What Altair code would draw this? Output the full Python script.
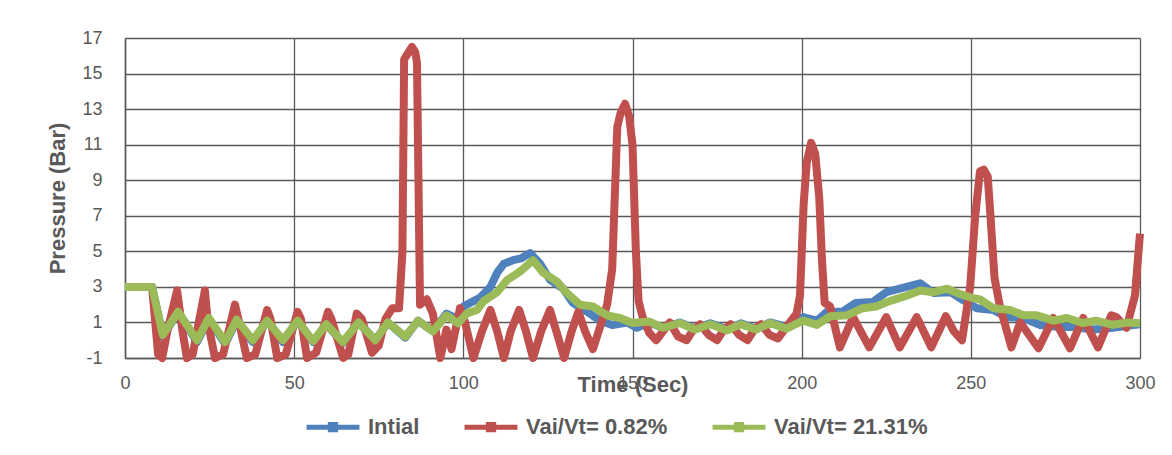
import altair as alt
import pandas as pd

series_names = ["Intial", "Vai/Vt= 0.82%", "Vai/Vt= 21.31%"]
series_colors = ["#4F81BD", "#C0504D", "#9BBB59"]

x_ticks = [0, 50, 100, 150, 200, 250, 300]
y_ticks = [-1, 1, 3, 5, 7, 9, 11, 13, 15, 17]

# Intial (blue)
blue_t = [0, 8, 11.2, 15.7, 21.3, 24.8, 29.6, 33, 37.8, 42, 46.7, 51, 55.6, 59.5, 64.4, 69, 74, 77.7,
          82.8, 86.6, 91, 95, 98.4, 100, 103, 105, 108, 110, 112, 114.7, 117, 119.7, 122.7, 125.6,
          129.5, 132.4, 136.6, 140.4, 144, 148.4, 151.3, 155, 159, 164, 168.5, 173, 178, 182, 186.5,
          190.7, 195.5, 200.4, 204.5, 207.5, 212, 216, 221, 225, 231, 235, 239, 244, 247.7, 251.8,
          256.6, 260.7, 265.5, 270.5, 275.5, 280, 286, 292, 298, 300]
blue_v = [3.0, 3.0, 0.2, 1.6, -0.1, 1.2, -0.2, 1.1, -0.1, 1.1, -0.1, 1.1, -0.1, 0.9, -0.15, 1.0, 0.0, 1.0,
          0.15, 1.1, 0.5, 1.5, 1.2, 1.9, 2.2, 2.4, 3.0, 3.8, 4.3, 4.5, 4.6, 4.9, 4.3, 3.4,
          2.9, 2.1, 1.6, 1.1, 0.86, 1.0, 0.7, 1.0, 0.7, 1.0, 0.65, 0.95, 0.6, 0.95, 0.65,
          1.0, 0.75, 1.3, 1.1, 1.6, 1.6, 2.1, 2.15, 2.7, 3.0, 3.2, 2.65, 2.7, 2.26, 1.8,
          1.7, 1.3, 1.25, 0.86, 0.75, 0.75, 0.6, 0.7, 0.86, 0.9]

# Vai/Vt = 0.82% (red)
red_t = [0, 8, 9.8, 11, 12.5, 15.4, 17, 18.3, 20, 23.6, 24.5, 26.6, 29, 32.5, 33.5, 36, 38.5, 42, 43,
         45, 47.5, 51, 52, 53.8, 56.5, 60, 61, 64.5, 66, 68.5, 70, 73, 75, 77, 79, 81, 82, 82.5, 83.5,
         84.8, 85.8, 86.3, 87.2, 89.2, 91, 93.2, 95, 96.5, 99, 100.5, 103, 105.5, 108, 110, 112, 114,
         116.5, 118.5, 120.6, 123, 125.6, 127.5, 129.8, 132, 134, 136, 138.3, 140.5, 142.5, 144,
         145.5, 146.5, 147.8, 149, 150, 151, 151.8, 153, 155, 157, 159, 161, 163.5, 166, 168, 170,
         172.5, 175, 177, 179, 181.5, 184, 186, 188, 190.5, 193, 195.5, 198.5, 199.5, 200.6, 201.5,
         202.8, 204, 205.2, 206, 206.8, 208.4, 211.3, 215.2, 220, 225, 229, 234, 238.3, 242.6, 245,
         247.4, 249.8, 251.3, 252.7, 253.8, 255, 255.8, 257, 258.6, 262, 264.6, 270, 274.4, 279.3,
         283.2, 287.6, 291.5, 293, 296, 298.5, 300]
red_v = [3.0, 3.0, -0.8, -1.0, 0.5, 2.8, 0.5, -1.0, -0.8, 2.8, 1.0, -1.0, -0.8, 2.0, 1.2, -1.0, -0.8, 1.7, 1.2,
         -1.0, -0.8, 1.6, 1.2, -1.0, -0.7, 1.6, 1.2, -1.0, -0.8, 1.5, 1.2, -0.7, -0.3, 1.2, 1.8, 1.8, 5.0, 15.8, 16.1,
         16.5, 16.2, 15.6, 2.0, 2.3, 1.5, -1.0, 0.6, -0.5, 1.8, 1.0, -1.0, 0.5, 1.7, 0.5, -1.0, 0.5,
         1.7, 0.5, -1.0, 0.5, 1.7, 0.5, -1.0, 0.5, 1.6, 0.5, -0.5, 0.8, 2.0, 4.0,
         12.0, 12.8, 13.3, 12.6, 11.0, 5.0, 2.2, 1.3, 0.4, 0.0, 0.5, 1.0, 0.2, 0.0, 0.6, 0.9,
         0.3, 0.0, 0.6, 0.9, 0.3, 0.0, 0.6, 0.9, 0.3, 0.1, 0.75, 1.5, 2.5, 7.7, 10.0,
         11.1, 10.5, 8.0, 4.5, 2.1, 1.9, -0.4, 1.3, -0.4, 1.3, -0.4, 1.3, -0.4, 1.35, 0.5,
         0.0, 3.0, 7.0, 9.5, 9.6, 9.2, 7.0, 3.5, 1.9, -0.4, 1.0, -0.45, 1.25, -0.45,
         1.25, -0.4, 1.4, 1.3, 0.7, 2.5, 6.0]

# Vai/Vt = 21.31% (green)
green_t = [0, 8, 11.2, 15.7, 21.3, 24.8, 29.6, 33, 37.8, 42, 46.7, 51, 55.6, 59.5, 64.4, 69, 74, 77.7,
           82.8, 86.6, 91, 95, 98.4, 101, 104, 106, 110, 113, 114.7, 117, 120.6, 123.6, 127.7, 130.6,
           134.5, 138.3, 142.5, 146.3, 150, 155, 159, 164, 168.5, 173, 178, 182, 186.5, 190.7, 195.5,
           200.4, 204.5, 208.5, 213.4, 218, 222, 226, 231, 235, 239, 243, 246, 250, 252.7, 256.7,
           261.6, 265.5, 269.5, 274.4, 278.4, 283, 287, 292, 296, 300]
green_v = [3.0, 3.0, 0.3, 1.6, 0.0, 1.25, -0.1, 1.15, 0.0, 1.1, 0.0, 1.1, -0.05, 0.9, -0.1, 1.0, 0.0, 1.0,
           0.2, 1.1, 0.5, 1.4, 0.95, 1.5, 1.7, 2.2, 2.7, 3.4, 3.6, 3.9, 4.5, 3.8, 3.3, 2.65,
           2.0, 1.9, 1.4, 1.25, 0.97, 1.05, 0.7, 0.97, 0.6, 0.9, 0.55, 0.9, 0.6, 0.97, 0.65,
           1.1, 0.86, 1.35, 1.4, 1.8, 1.9, 2.2, 2.5, 2.8, 2.7, 2.9, 2.65, 2.4, 2.3, 1.8,
           1.7, 1.4, 1.4, 1.1, 1.25, 0.97, 1.1, 0.86, 1.0, 0.95]

frames = []
for name, ts, vs in [(series_names[0], blue_t, blue_v),
                     (series_names[1], red_t, red_v),
                     (series_names[2], green_t, green_v)]:
    frames.append(pd.DataFrame({"time": ts, "pressure": vs, "series": name}))
df = pd.concat(frames, ignore_index=True)

FONT = "Liberation Sans"
GRAY = "#595959"

color = alt.Color(
    "series:N",
    scale=alt.Scale(domain=series_names, range=series_colors),
    legend=alt.Legend(
        title=None,
        orient="none",
        legendX=179,
        legendY=360,
        direction="horizontal",
        symbolType="M-1,0H1M-0.1,-0.1H0.1V0.1H-0.1Z",
        symbolSize=2800,
        symbolStrokeWidth=5,
        labelFont=FONT,
        labelFontSize=22,
        labelFontWeight="bold",
        labelColor=GRAY,
        labelOffset=6,
        columnPadding=34,
        padding=0,
        labelLimit=400,
    ),
)

x = alt.X(
    "time:Q",
    scale=alt.Scale(domain=[0, 300], nice=False),
    axis=alt.Axis(values=x_ticks, title="Time (Sec)", titleY=26, titleBaseline="middle",
                  labelPadding=16, labelFlush=False),
)
y = alt.Y(
    "pressure:Q",
    scale=alt.Scale(domain=[-1, 17], nice=False, zero=False),
    axis=alt.Axis(values=y_ticks, title="Pressure (Bar)", titleX=-68, titleY=160,
                  titleAngle=270, titleAlign="center", titleBaseline="middle", labelPadding=23,
                  labelExpr="datum.value + ''"),
)


def layer_for(name):
    return (
        alt.Chart(df)
        .transform_filter(alt.datum.series == name)
        .mark_line(strokeWidth=8, strokeJoin="round")
        .encode(x=x, y=y, color=color, order="time:Q")
    )


chart = (
    alt.layer(*[layer_for(n) for n in series_names])
    .properties(
        width=1015,
        height=320,
        autosize=alt.AutoSizeParams(type="none"),
        padding={"left": 125, "top": 38, "right": 32, "bottom": 97},
        background="white",
    )
    .configure_view(stroke=None)
    .configure_axis(
        grid=True,
        gridColor=GRAY,
        gridWidth=1.3,
        gridOpacity=1,
        domainColor=GRAY,
        domainWidth=1.5,
        ticks=False,
        labelFont=FONT,
        labelFontSize=18,
        labelColor=GRAY,
        titleFont=FONT,
        titleFontSize=22,
        titleFontWeight="bold",
        titleColor=GRAY,
    )
)

chart.save("out.html", embed_options={"renderer": "svg", "actions": False})
